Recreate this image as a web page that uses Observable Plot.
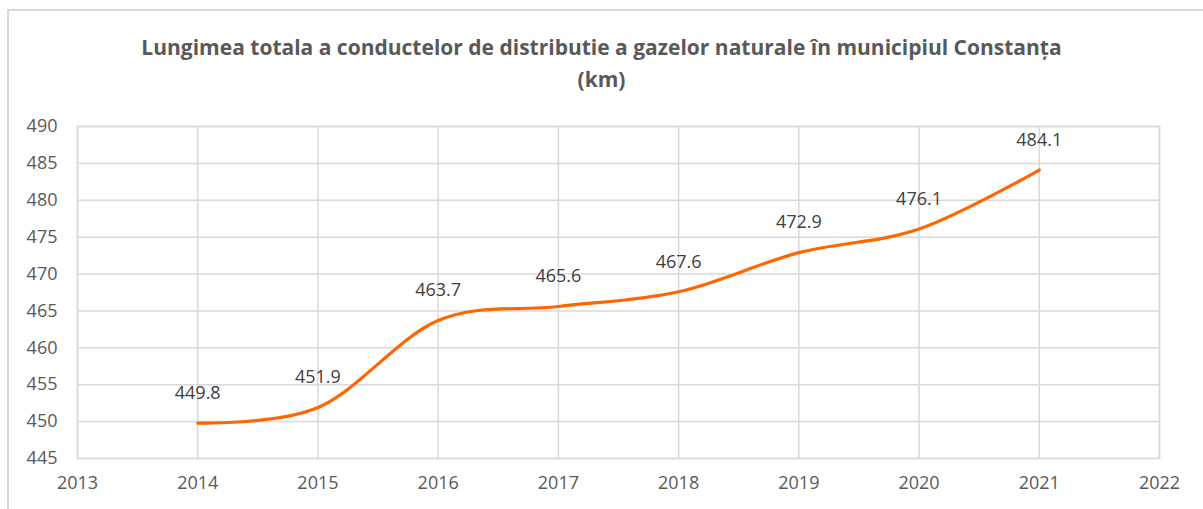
<!DOCTYPE html>
<html>
<head>
<meta charset="utf-8">
<script src="https://cdn.jsdelivr.net/npm/d3@7"></script>
<script src="https://cdn.jsdelivr.net/npm/@observablehq/plot@0.6"></script>
<style>
  html, body { margin: 0; padding: 0; background: #fff; width: 1203px; height: 509px; overflow: hidden; }
  #frame { position: absolute; left: 7px; top: 9px; width: 1300px; height: 600px; border-left: 2px solid #d9d9d9; border-top: 2px solid #d9d9d9; }
  #title { position: absolute; left: 0; top: 31px; width: 1203px; text-align: center; font-family: "Open Sans", sans-serif; font-weight: bold; font-size: 21px; line-height: 32px; color: #595959; }
  #chart { position: absolute; left: 0; top: 100px; }
</style>
</head>
<body>
<div id="frame"></div>
<div id="title">Lungimea totala a conductelor de distributie a gazelor naturale în municipiul Constanța<br>(km)</div>
<div id="chart"></div>
<script>
const years = [2014, 2015, 2016, 2017, 2018, 2019, 2020, 2021];
const values = [449.8, 451.9, 463.7, 465.6, 467.6, 472.9, 476.1, 484.1];
const xTicks = [2013, 2014, 2015, 2016, 2017, 2018, 2019, 2020, 2021, 2022];
const yTicks = [445, 450, 455, 460, 465, 470, 475, 480, 485, 490];

const data = years.map((year, i) => ({year, value: values[i]}));
const grid = "#d9d9d9";

const chart = Plot.plot({
  width: 1203,
  height: 409,
  marginLeft: 77,
  marginRight: 44,
  marginTop: 26,
  marginBottom: 51,
  style: {color: "#595959", fontFamily: "'Open Sans', sans-serif", fontSize: "18px", background: "transparent"},
  x: {domain: [2013, 2022]},
  y: {domain: [445, 490]},
  marks: [
    Plot.gridX(xTicks, {stroke: grid, strokeOpacity: 1, strokeWidth: 1.5}),
    Plot.gridY(yTicks, {stroke: grid, strokeOpacity: 1, strokeWidth: 1.5}),
    Plot.frame({stroke: grid, strokeWidth: 1.5}),
    Plot.axisX(xTicks, {tickSize: 0, tickPadding: 18, tickFormat: "d", label: null, fontSize: 18}),
    Plot.axisY(yTicks, {tickSize: 0, tickPadding: 20, label: null, fontSize: 18}),
    Plot.line(data, {x: "year", y: "value", curve: "cardinal", stroke: "#ff6600", strokeWidth: 3.2}),
    Plot.text(data, {x: "year", y: "value", text: d => d.value.toFixed(1), dy: -30, fill: "#404040", fontSize: 18})
  ]
});
document.getElementById("chart").appendChild(chart);
</script>
</body>
</html>
